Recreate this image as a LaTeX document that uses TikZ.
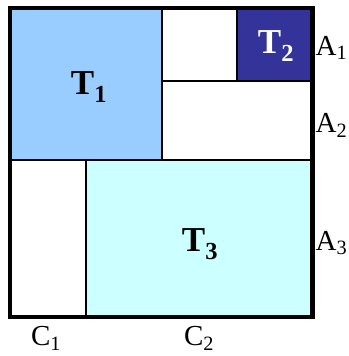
\documentclass[tikz,border=0pt]{standalone}
\usepackage{fontspec}
\setmainfont{Liberation Serif}
\usetikzlibrary{positioning}

\definecolor{tone}{HTML}{99CCFF}
\definecolor{ttwo}{HTML}{333399}
\definecolor{tthree}{HTML}{CCFFFF}

\tikzset{
    cell/.style={draw=black, line width=1.6pt},
    tlabel/.style={font=\fontsize{35}{38}\selectfont\bfseries, inner sep=0pt},
    axlabel/.style={font=\fontsize{29}{32}\selectfont, inner sep=0pt}
}

\begin{document}
\begin{tikzpicture}[x=1pt,y=-1pt]

\useasboundingbox (0,0) rectangle (348,356);

% Filled blocks
\fill[tone] (10,8) rectangle (162,160);
\fill[ttwo] (237,8) rectangle (312.5,81);
\fill[tthree] (86,160) rectangle (312.5,317);

% Inner lines
\draw[cell] (162,8) -- (162,160);
\draw[cell] (162,81) -- (312.5,81);
\draw[cell] (237,8) -- (237,81);
\draw[cell] (10,160) -- (312.5,160);
\draw[cell] (86,160) -- (86,317);

% Outer frame
\draw[line width=4.5pt] (10,8) rectangle (312.5,317);

% Block names
\node[tlabel] (t1) at (89,87) {T\textsubscript{1}};
\node[tlabel, text=white] (t2) at (276,46) {T\textsubscript{2}};
\node[tlabel] (t3) at (200,244) {T\textsubscript{3}};

% Rows
\node[axlabel, anchor=west] (a1) at (315.5,48) {A\textsubscript{1}};
\node[axlabel, anchor=west] (a2) at (315.5,125) {A\textsubscript{2}};
\node[axlabel, anchor=west] (a3) at (315.5,243) {A\textsubscript{3}};

% Columns
\node[axlabel] (c1) at (46,338) {C\textsubscript{1}};
\node[axlabel] (c2) at (199,338) {C\textsubscript{2}};

\end{tikzpicture}
\end{document}
